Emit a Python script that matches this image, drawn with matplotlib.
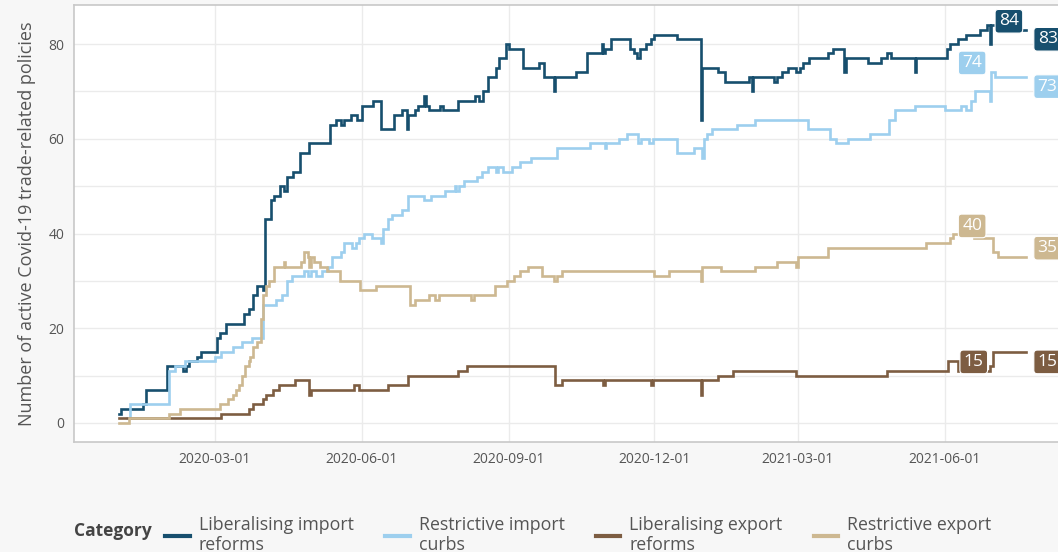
"""Active Covid-19 trade-related policies by category."""

import matplotlib

matplotlib.use("Agg")
import matplotlib.dates as mdates
import matplotlib.pyplot as plt
import pandas as pd

plt.rcParams["font.family"] = ["Open Sans", "DejaVu Sans"]

# step series: date where the count changes -> new count
lib_import_dates = [
    "2020-01-01", "2020-01-02", "2020-01-16", "2020-01-18", "2020-01-31", "2020-02-10", "2020-02-12",
    "2020-02-14", "2020-02-19", "2020-02-21", "2020-03-02", "2020-03-04", "2020-03-08", "2020-03-19",
    "2020-03-22", "2020-03-25", "2020-03-27", "2020-03-31", "2020-04-01", "2020-04-05", "2020-04-07",
    "2020-04-11", "2020-04-13", "2020-04-15", "2020-04-19", "2020-04-23", "2020-04-29", "2020-05-12",
    "2020-05-16", "2020-05-19", "2020-05-21", "2020-05-25", "2020-05-29", "2020-06-01", "2020-06-08",
    "2020-06-13", "2020-06-21", "2020-06-26", "2020-06-29", "2020-06-30", "2020-07-04", "2020-07-06",
    "2020-07-10", "2020-07-11", "2020-07-13", "2020-07-20", "2020-07-22", "2020-07-31", "2020-08-11",
    "2020-08-13", "2020-08-16", "2020-08-19", "2020-08-24", "2020-08-26", "2020-08-30", "2020-09-01",
    "2020-09-10", "2020-09-20", "2020-09-23", "2020-09-29", "2020-09-30", "2020-10-13", "2020-10-20",
    "2020-10-29", "2020-10-30", "2020-10-31", "2020-11-04", "2020-11-16", "2020-11-18", "2020-11-20",
    "2020-11-22", "2020-11-26", "2020-11-29", "2020-12-01", "2020-12-15", "2020-12-30", "2020-12-31",
    "2021-01-10", "2021-01-14", "2021-01-29", "2021-01-31", "2021-02-01", "2021-02-14", "2021-02-16",
    "2021-02-19", "2021-02-23", "2021-02-28", "2021-03-02", "2021-03-04", "2021-03-08", "2021-03-20",
    "2021-03-23", "2021-03-30", "2021-03-31", "2021-04-14", "2021-04-22", "2021-04-26", "2021-04-28",
    "2021-05-13", "2021-05-14", "2021-06-02", "2021-06-04", "2021-06-09", "2021-06-14", "2021-06-23",
    "2021-06-27", "2021-06-29", "2021-06-30", "2021-07-09", "2021-07-22",
]
lib_import_values = [
    2, 3, 4, 7, 12, 11, 12,
    13, 14, 15, 18, 19, 21, 23,
    24, 27, 29, 28, 43, 47, 48,
    50, 49, 52, 53, 57, 59, 63,
    64, 63, 64, 65, 64, 67, 68,
    62, 65, 66, 62, 65, 66, 67,
    69, 67, 66, 67, 66, 68, 69,
    68, 70, 73, 75, 77, 80, 79,
    75, 76, 73, 70, 73, 74, 78,
    80, 78, 79, 81, 79, 78, 77,
    79, 80, 81, 82, 81, 64, 75,
    74, 72, 73, 70, 73, 72, 73,
    74, 75, 74, 75, 76, 77, 78,
    79, 74, 77, 76, 77, 78, 77,
    74, 77, 79, 80, 81, 82, 83,
    84, 80, 84, 83, 83,
]

res_import_dates = [
    "2020-01-06", "2020-01-08", "2020-02-01", "2020-02-05", "2020-02-11", "2020-03-01", "2020-03-05",
    "2020-03-12", "2020-03-18", "2020-03-24", "2020-03-31", "2020-04-08", "2020-04-12", "2020-04-15",
    "2020-04-18", "2020-04-26", "2020-04-28", "2020-04-30", "2020-05-03", "2020-05-07", "2020-05-11",
    "2020-05-13", "2020-05-19", "2020-05-21", "2020-05-26", "2020-05-28", "2020-05-30", "2020-06-02",
    "2020-06-07", "2020-06-13", "2020-06-14", "2020-06-17", "2020-06-20", "2020-06-26", "2020-06-30",
    "2020-07-10", "2020-07-14", "2020-07-23", "2020-07-29", "2020-07-30", "2020-08-01", "2020-08-04",
    "2020-08-12", "2020-08-15", "2020-08-19", "2020-08-24", "2020-08-25", "2020-08-28", "2020-09-03",
    "2020-09-08", "2020-09-15", "2020-10-01", "2020-10-22", "2020-10-31", "2020-11-01", "2020-11-09",
    "2020-11-14", "2020-11-21", "2020-11-23", "2020-11-28", "2020-11-30", "2020-12-15", "2020-12-26",
    "2020-12-31", "2021-01-01", "2021-01-03", "2021-01-06", "2021-01-22", "2021-02-02", "2021-03-07",
    "2021-03-21", "2021-03-25", "2021-04-01", "2021-04-15", "2021-04-27", "2021-05-01", "2021-05-13",
    "2021-06-01", "2021-06-11", "2021-06-14", "2021-06-17", "2021-06-20", "2021-06-29", "2021-06-30",
    "2021-07-02", "2021-07-22",
]
res_import_values = [
    1, 4, 11, 12, 13, 14, 15,
    16, 17, 18, 25, 26, 27, 30,
    31, 32, 31, 32, 31, 32, 33,
    35, 36, 38, 37, 38, 39, 40,
    39, 38, 41, 43, 44, 45, 48,
    47, 48, 49, 50, 49, 50, 51,
    52, 53, 54, 53, 54, 53, 54,
    55, 56, 58, 59, 58, 59, 60,
    61, 59, 60, 59, 60, 57, 58,
    56, 60, 61, 62, 63, 64, 62,
    60, 59, 60, 61, 64, 66, 67,
    66, 67, 66, 68, 70, 68, 74,
    73, 73,
]

lib_export_dates = [
    "2020-01-01", "2020-03-05", "2020-03-22", "2020-03-25", "2020-03-31", "2020-04-02", "2020-04-06",
    "2020-04-10", "2020-04-20", "2020-04-29", "2020-04-30", "2020-05-27", "2020-05-30", "2020-06-17",
    "2020-06-30", "2020-07-31", "2020-08-06", "2020-09-30", "2020-10-04", "2020-10-30", "2020-10-31",
    "2020-11-29", "2020-11-30", "2020-12-30", "2020-12-31", "2021-01-10", "2021-01-19", "2021-02-28",
    "2021-04-26", "2021-06-03", "2021-06-09", "2021-06-29", "2021-07-01", "2021-07-22",
]
lib_export_values = [
    1, 2, 3, 4, 5, 6, 7,
    8, 9, 6, 7, 8, 7, 8,
    10, 11, 12, 8, 9, 8, 9,
    8, 9, 6, 9, 10, 11, 10,
    11, 13, 11, 12, 15, 15,
]

res_export_dates = [
    "2020-01-01", "2020-01-07", "2020-02-01", "2020-02-08", "2020-03-04", "2020-03-09", "2020-03-12",
    "2020-03-14", "2020-03-16", "2020-03-18", "2020-03-20", "2020-03-22", "2020-03-23", "2020-03-25",
    "2020-03-27", "2020-03-30", "2020-03-31", "2020-04-02", "2020-04-04", "2020-04-07", "2020-04-13",
    "2020-04-14", "2020-04-24", "2020-04-26", "2020-04-28", "2020-04-29", "2020-04-30", "2020-05-02",
    "2020-05-06", "2020-05-10", "2020-05-18", "2020-05-31", "2020-06-10", "2020-07-01", "2020-07-04",
    "2020-07-13", "2020-07-17", "2020-07-19", "2020-08-08", "2020-08-10", "2020-08-23", "2020-08-31",
    "2020-09-04", "2020-09-08", "2020-09-13", "2020-09-22", "2020-09-29", "2020-10-01", "2020-10-04",
    "2020-12-01", "2020-12-10", "2020-12-30", "2020-12-31", "2021-01-12", "2021-02-02", "2021-02-16",
    "2021-02-28", "2021-03-01", "2021-03-20", "2021-05-20", "2021-06-04", "2021-06-06", "2021-06-19",
    "2021-07-01", "2021-07-04", "2021-07-22",
]
res_export_values = [
    0, 1, 2, 3, 4, 5, 6,
    7, 8, 10, 12, 13, 14, 16,
    17, 22, 27, 29, 30, 33, 34,
    33, 34, 36, 35, 33, 35, 34,
    33, 32, 30, 28, 29, 25, 26,
    27, 26, 27, 26, 27, 29, 30,
    31, 32, 33, 31, 30, 31, 32,
    31, 32, 30, 33, 32, 33, 34,
    33, 35, 37, 38, 39, 40, 39,
    36, 35, 35,
]

categories = [
    "Liberalising import\nreforms",
    "Restrictive import\ncurbs",
    "Liberalising export\nreforms",
    "Restrictive export\ncurbs",
]
colors = ["#174f6e", "#9dcfee", "#7d5d42", "#cdb891"]
# label placement: (date of peak label, peak label y offset, end label y offset)
label_spots = [
    ("2021-07-11", 0.8, -2.0),
    ("2021-06-18", 2.0, -2.0),
    ("2021-06-19", -2.1, -2.1),
    ("2021-06-18", 1.6, 1.9),
]

series = [
    (lib_import_dates, lib_import_values),
    (res_import_dates, res_import_values),
    (lib_export_dates, lib_export_values),
    (res_export_dates, res_export_values),
]

W, H = 1058, 552
fig = plt.figure(figsize=(W / 100, H / 100), dpi=100, facecolor="#f7f7f7")
left, right, top, bottom = 74, 1058, 5, 442
ax = fig.add_axes([left / W, 1 - bottom / H, (right - left) / W, (bottom - top) / H])
ax.set_facecolor("white")

ref = mdates.date2num(pd.Timestamp("2020-03-01"))
px_per_day = 730 / 457
ax.set_xlim(ref - (215 - left) / px_per_day, ref + (right - 215) / px_per_day)
px_per_unit = (423 - 44) / 80
ax.set_ylim(-(bottom - 423) / px_per_unit, 80 + (44 - top) / px_per_unit)

handles = []
for (dates, vals), color, (peak_date, peak_dy, end_dy) in zip(series, colors, label_spots):
    d = pd.to_datetime(dates)
    (ln,) = ax.plot(d, vals, drawstyle="steps-post", color=color, lw=1.9, solid_joinstyle="miter")
    handles.append(ln)
    box = dict(boxstyle="round,pad=0.22,rounding_size=0.2", fc=color, ec="white", lw=0.8)
    peak = max(vals)
    ax.text(pd.Timestamp(peak_date), peak + peak_dy, str(peak), color="white", fontsize=12.5,
            ha="center", va="center", bbox=box, zorder=5)
    ax.text(d[-1] + pd.Timedelta(days=7), vals[-1] + end_dy, str(vals[-1]), color="white",
            fontsize=12.5, ha="left", va="center", bbox=box, zorder=5, clip_on=False)

ax.xaxis.set_major_locator(mdates.MonthLocator(bymonth=[3, 6, 9, 12]))
ax.xaxis.set_major_formatter(mdates.DateFormatter("%Y-%m-%d"))
ax.set_yticks([0, 20, 40, 60, 80])
ax.set_yticks([10, 30, 50, 70], minor=True)
ax.grid(which="major", color="#ebebeb", lw=1.0)
ax.grid(which="minor", axis="y", color="#ebebeb", lw=1.0)
ax.set_axisbelow(True)
ax.tick_params(which="both", length=0, labelsize=10, labelcolor="#555555", pad=7)
for side in ["left", "bottom", "top"]:
    ax.spines[side].set_color("#c8c8c8")
    ax.spines[side].set_linewidth(1.2)
ax.spines["right"].set_visible(False)
ax.set_ylabel("Number of active Covid-19 trade-related policies", fontsize=13, color="#555555",
              labelpad=9)

fig.text(74 / W, 1 - 531 / H, "Category", fontsize=12.5, fontweight="bold", color="#444444",
         ha="left", va="center")
fig.legend(handles, categories, loc="center left", bbox_to_anchor=(149 / W, 1 - 535 / H),
           ncol=4, frameon=False, fontsize=12.8, handlelength=1.4, handletextpad=0.5,
           columnspacing=1.75, labelcolor="#555555", labelspacing=0.2)
for lh in fig.legends[0].legend_handles:
    lh.set_linewidth(3)

fig.savefig("out.png", dpi=100, facecolor=fig.get_facecolor())
